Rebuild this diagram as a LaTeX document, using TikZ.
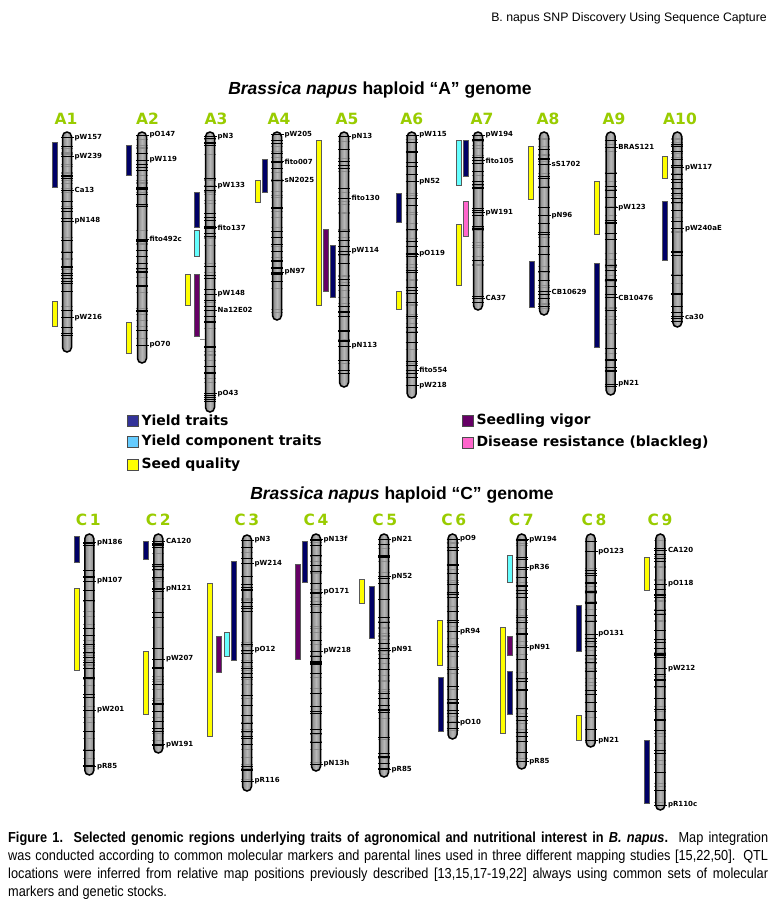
\documentclass[tikz,border=0pt]{standalone}
\usepackage{fontspec}
\setmainfont{Liberation Sans}
\newfontfamily\markfont{DejaVu Sans}
\newfontfamily\capfont[FakeStretch=0.88]{Liberation Sans}
\definecolor{chrgreen}{RGB}{153,204,0}
\definecolor{qn}{HTML}{000066}
\definecolor{qc}{HTML}{66FFFF}
\definecolor{qy}{HTML}{FFFF00}
\definecolor{qp}{HTML}{660066}
\definecolor{qk}{HTML}{FF66CC}
\definecolor{ln}{HTML}{333399}
\definecolor{lc}{HTML}{66CCFF}

\begin{document}
\begin{tikzpicture}[x=1pt, y=-1pt,
    body/.style={left color=black!48, right color=black!48, middle color=black!28, rounded corners=4.5pt},
    chrom/.style={draw=black, line width=1.5pt, rounded corners=4.5pt},
    tick/.style={line width=0.7pt},
    qtl/.style={draw=black!65, line width=0.6pt},
    marklab/.style={anchor=west, inner sep=0.5pt, font=\markfont\bfseries\fontsize{7}{8}\selectfont},
    chrlab/.style={text=chrgreen, inner sep=0pt, font=\markfont\bfseries\fontsize{15.5}{16}\selectfont},
    title/.style={font=\bfseries\fontsize{17.5}{20}\selectfont},
    legbox/.style={draw=black!70, line width=0.6pt, minimum size=11pt, inner sep=0pt},
    legtext/.style={anchor=west, inner sep=0pt, font=\markfont\bfseries\fontsize{14}{16}\selectfont}]
  \useasboundingbox (0,0) rectangle (780,900);
  \fill[white] (0,0) rectangle (780,900);
  \pgfmathsetseed{11}

  \node[anchor=base east, inner sep=0pt, font=\fontsize{12.3}{14}\selectfont] (head) at (767,21)
    {B. napus SNP Discovery Using Sequence Capture};
  \node[title] (titleA) at (380,90) {\textit{Brassica napus} haploid “A” genome};
  \node[title] (titleC) at (402,495) {\textit{Brassica napus} haploid “C” genome};

  % chromosome bodies: centre x / top / bottom, random marker ticks inside
  \foreach \cx/\ya/\yb in {67/132/352, 142/132/363, 210/132/412, 277/132/320, 344/132/387,
      411.7/132/398, 478/132/310, 544/132/315, 610.7/132/395, 677.3/132/327,
      89.3/534/775, 158.3/534/753, 247/535/791, 316/534/771, 384/534/777,
      452.5/534/739, 521.7/534/769, 590.7/534/747, 660.3/534/810}
  {
    \shade[body] ({\cx-4.5},\ya) rectangle ({\cx+4.5},\yb);
    \pgfmathtruncatemacro\nt{(\yb-\ya)/8}
    \foreach \k in {1,...,\nt}{
      \pgfmathsetmacro\ty{\ya+6+(\yb-\ya-12)*rnd}
      \draw[tick] ({\cx-6},\ty) -- ({\cx+6},\ty);
    }
    \pgfmathtruncatemacro\ng{(\yb-\ya)/11}
    \foreach \k in {1,...,\ng}{
      \pgfmathsetmacro\ty{\ya+6+(\yb-\ya-12)*rnd}
      \draw[tick, black!45] ({\cx-6},\ty) -- ({\cx+6},\ty);
    }
    \draw[chrom] ({\cx-4.5},\ya) rectangle ({\cx+4.5},\yb);
  }
  \draw[tick, black!50] (200,339.3) -- (205,339.3);

  % chromosome names
  \foreach \x/\y/\lab in {66/119/A1, 147.5/119/A2, 216/119/A3, 279/119/A4, 347/119/A5,
      411.7/119/A6, 482/119/A7, 548/119/A8, 614/119/A9, 680/119/A10}
    \node[chrlab] (\lab) at (\x,\y) {\lab};
  \foreach \x/\y/\n in {88.3/520/1, 158.3/520/2, 246.7/520/3, 316/520/4, 384.7/520/5,
      453.7/520/6, 521.3/520/7, 594/520/8, 660/520/9}
    \node[chrlab] (C\n) at (\x,\y) {C\,\n};

  % named markers: chromosome x / position / marker
  \foreach \cx/\y/\lab [count=\i] in {67/137.7/pW157, 67/156.7/pW239, 67/190/Ca13, 67/221/pN148, 67/317.7/pW216,
      142/135/pO147, 142/160/pW119, 142/239.3/fito492c, 142/345/pO70,
      210/136.7/pN3, 210/186/pW133, 210/227.7/fito137, 210/294/pW148, 210/310/Na12E02, 210/393.3/pO43,
      277/134.3/pW205, 277/161.7/fito007, 277/180/sN2025, 277/272/pN97,
      344/136.7/pN13, 344/198.3/fito130, 344/251/pW114, 344/346/pN113,
      411.7/135/pW115, 411.7/181.7/pN52, 411.7/254/pO119, 411.7/370/fito554, 411.7/385.7/pW218,
      478/135/pW194, 478/160.7/fito105, 478/212.3/pW191, 478/298.3/CA37,
      544/164/sS1702, 544/215.7/pN96, 544/291.7/CB10629,
      610.7/147.3/BRAS121, 610.7/207.3/pW123, 610.7/297.7/CB10476, 610.7/384/pN21,
      677.3/167.7/pW117, 677.3/228.3/pW240aE, 677.3/316.7/ca30,
      89.3/542.7/pN186, 89.3/581/pN107, 89.3/710/pW201, 89.3/766.7/pR85,
      158.3/541/CA120, 158.3/588.3/pN121, 158.3/659/pW207, 158.3/744.3/pW191,
      247/540/pN3, 247/563.3/pW214, 247/650/pO12, 247/781/pR116,
      316/539.3/pN13f, 316/592/pO171, 316/651/pW218, 316/764/pN13h,
      384/539.3/pN21, 384/576.7/pN52, 384/650/pN91, 384/769.3/pR85,
      452.5/539/pO9, 452.5/631.7/pR94, 452.5/722.3/pO10,
      521.7/539.3/pW194, 521.7/567.3/pR36, 521.7/647.7/pN91, 521.7/761.7/pR85,
      590.7/551.7/pO123, 590.7/634/pO131, 590.7/740.7/pN21,
      660.3/550/CA120, 660.3/584/pO118, 660.3/668.3/pW212, 660.3/805/pR110c}
  {
    \draw[tick] ({\cx-6},\y) -- ({\cx+7},\y);
    \node[marklab] (mk\i) at ({\cx+7},\y) {\lab};
  }

  % QTL regions: left x / from / to / colour
  \foreach \x/\ya/\yb/\c in {52/142.7/187.3/qn, 52/301.7/326.7/qy,
      126.7/145.7/175/qn, 126.7/322.3/353.3/qy,
      194.3/192.3/227.7/qn, 194.3/230/256.7/qc, 185/274/305/qy, 194.3/274/336.7/qp,
      262.3/159/192.3/qn, 255/180.7/202.7/qy,
      316/140/305.7/qy, 323.3/229/291.7/qp, 330.5/245/297.3/qn,
      396.7/193.3/222.3/qn, 396.7/291.7/309.3/qy,
      456/140/185/qc, 463/140/176/qn, 463.7/201.7/236/qk, 456/224.3/285/qy,
      528.3/146/199.3/qy, 529/261.7/307.7/qn,
      594.7/181.7/234/qy, 594.7/263.3/347.3/qn,
      662.7/156/178.3/qy, 662.7/201/260/qn,
      74/536.7/562.3/qn, 74/588/670/qy,
      143.3/541.7/559/qn, 143.3/651.7/714/qy,
      207.3/583.3/736.7/qy, 216/636.7/672.7/qp, 224.3/632.3/656/qc, 231.7/561.7/660/qn,
      302/541/582/qn, 295.3/564.3/659/qp,
      359.3/579/603.3/qy, 369.5/586/638.3/qn,
      437.7/620/665.7/qy, 438.3/677.7/731.7/qn,
      507/555/582.7/qc, 500/627.3/733.3/qy, 507/636.7/655.7/qp, 507/671.7/714/qn,
      576.3/605/651.7/qn, 576.3/715/740/qy,
      644.3/557.7/590/qy, 644.3/740.7/803.3/qn}
    \draw[qtl, fill=\c] (\x,\ya) rectangle ({\x+5},\yb);

  % legend
  \foreach \x/\y/\c/\lab [count=\i] in {132.5/420.5/ln/Yield traits, 132.5/442/lc/Yield component traits,
      132.5/465/qy/Seed quality, 467.5/421/qp/Seedling vigor, 467.5/443/qk/Disease resistance (blackleg)}
  {
    \node[legbox, fill=\c] (lb\i) at (\x,\y) {};
    \node[legtext] (lt\i) at ([xshift=3pt]lb\i.east) {\lab};
  }

  % caption
  \node[anchor=base west, inner sep=0pt, text width=760pt, align=justify,
      font=\capfont\fontsize{14.5}{18}\selectfont] (caption) at (8,842.5)
    {{\bfseries Figure 1.\ \ Selected genomic regions underlying traits of agronomical and nutritional interest in \textit{B. napus}.}\ \ Map integration\linebreak
     was conducted according to common molecular markers and parental lines used in three different mapping studies [15,22,50]. QTL\linebreak
     locations were inferred from relative map positions previously described [13,15,17-19,22] always using common sets of molecular\linebreak
     markers and genetic stocks.};
\end{tikzpicture}
\end{document}
